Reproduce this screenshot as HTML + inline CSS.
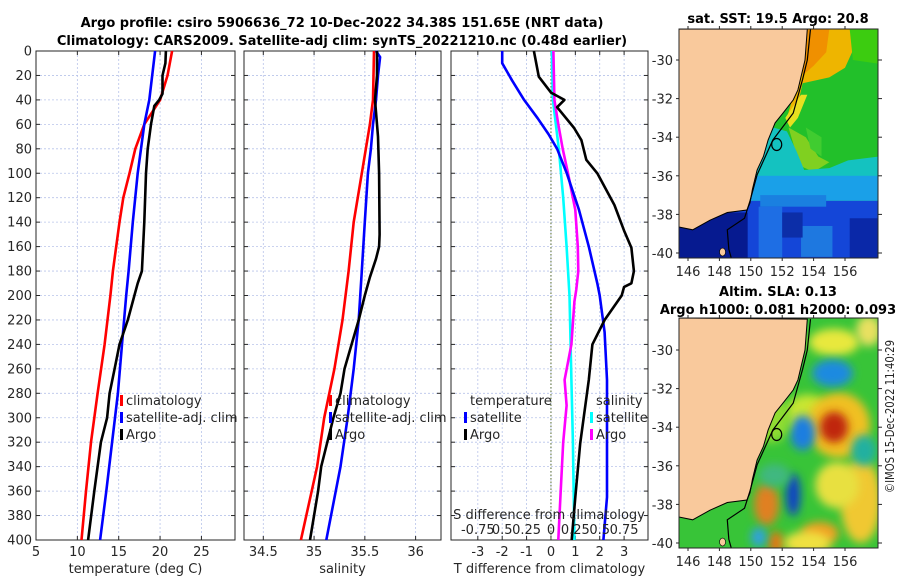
<!DOCTYPE html>
<html><head><meta charset="utf-8">
<style>
html,body{margin:0;padding:0;background:#fff;}
svg{display:block;font-family:"DejaVu Sans","Liberation Sans",sans-serif;}
.t{font-size:13px;fill:#262626;}
.tb{font-size:13px;font-weight:bold;fill:#000;}
</style></head>
<body>
<svg id="fig" width="900" height="580" viewBox="0 0 900 580">
<text class="tb" x="342" y="27" text-anchor="middle">Argo profile: csiro 5906636_72 10-Dec-2022 34.38S 151.65E (NRT data)</text>
<text class="tb" x="342" y="45" text-anchor="middle">Climatology: CARS2009. Satellite-adj clim: synTS_20221210.nc (0.48d earlier)</text>
<text class="tb" x="778" y="23" text-anchor="middle">sat. SST: 19.5 Argo: 20.8</text>
<text class="tb" x="778" y="296" text-anchor="middle">Altim. SLA: 0.13</text>
<text class="tb" x="778" y="314" text-anchor="middle">Argo h1000: 0.081 h2000: 0.093</text>
<text class="t" style="font-size:12px" textLength="153" lengthAdjust="spacingAndGlyphs" transform="translate(894,493) rotate(-90)">©IMOS 15-Dec-2022 11:40:29</text>
<g id="panels"></g>
<g id="maps"></g>
</svg>
<script>
// ---------- data ----------
const depthTicks = [0,20,40,60,80,100,120,140,160,180,200,220,240,260,280,300,320,340,360,380,400];
const tTicks = [5,10,15,20,25];
const sTicks = [34.5,35,35.5,36];
const dTTicks = [-3,-2,-1,0,1,2,3];
const dSTickLabels = ["-0.75","0.5","0.25","0","0.25","0.5","0.75"];
const dSTickValues = [-0.75,-0.5,-0.25,0,0.25,0.5,0.75];

const climTDepth = [0,20,40,60,80,100,120,140,160,180,200,240,280,320,360,400];
const climT = [21.45,20.9,20.0,18.1,17.0,16.3,15.55,15.1,14.7,14.3,14.0,13.3,12.45,11.65,11.05,10.5];
const satTDepth = [0,40,60,80,100,140,180,200,240,280,320,360,400];
const satT = [19.4,18.7,18.1,17.7,17.3,16.7,16.2,15.9,15.4,14.9,14.2,13.5,12.75];
const argoTDepth = [0,10,20,35,40,45,60,80,100,140,180,190,200,220,240,260,280,300,320,360,400];
const argoT = [20.7,20.65,20.3,20.3,19.9,19.3,18.9,18.5,18.3,18.1,17.8,17.3,16.9,16.1,15.1,14.5,13.9,13.6,12.85,12.05,11.3];

const climSDepth = [0,40,60,100,140,180,220,260,300,340,400];
const climS = [35.59,35.58,35.55,35.47,35.39,35.34,35.28,35.20,35.10,35.03,34.87];
const satSDepth = [0,5,20,40,60,80,100,140,180,220,260,300,340,400];
const satS = [35.61,35.65,35.63,35.61,35.58,35.56,35.53,35.5,35.47,35.44,35.39,35.33,35.26,35.12];
const argoSDepth = [0,20,40,60,70,100,150,160,170,185,200,220,240,260,280,300,320,340,360,400];
const argoS = [35.62,35.62,35.6,35.62,35.63,35.64,35.645,35.64,35.61,35.55,35.5,35.44,35.37,35.3,35.26,35.19,35.13,35.07,35.04,34.96];

const dTSatDepth = [0,10,24,40,55,68,80,100,130,160,190,200,230,269,365,400];
const dTSat = [-2.0,-2.0,-1.6,-1.1,-0.55,-0.1,0.25,0.65,1.15,1.55,1.9,2.0,2.2,2.3,2.3,2.15];
const dTArgoDepth = [0,21,34,40,46,63,73,89,100,126,147,161,180,190,193,200,220,240,269,321,365,400];
const dTArgo = [-0.7,-0.5,0,0.55,0.25,0.95,1.25,1.45,1.9,2.6,3.0,3.3,3.4,3.3,3.0,2.9,2.2,1.7,1.55,1.2,1.0,0.85];
const dSSatDepth = [0,40,80,120,160,200,269,320,400];
const dSSat = [0.01,0.02,0.08,0.125,0.16,0.19,0.21,0.225,0.24];
const dSArgoDepth = [0,20,40,60,80,100,130,160,180,195,205,240,269,290,320,360,400];
const dSArgo = [0.025,0.03,0.035,0.075,0.12,0.175,0.25,0.275,0.28,0.26,0.24,0.21,0.14,0.16,0.125,0.1,0.075];

// ---------- helpers ----------
const NS = "http://www.w3.org/2000/svg";
function mk(tag, attrs, parent){const e=document.createElementNS(NS,tag);for(const k in attrs)e.setAttribute(k,attrs[k]);parent.appendChild(e);return e;}
const Y0=51, Y1=540;
const yD = d => Y0 + d/400*(Y1-Y0);
const panelsG = document.getElementById('panels');

function panel(name,x0,x1,vmin,vmax,ticks,labels,xlabel,showY){
  const g = mk('g',{},panelsG);
  
  
  const sx = v => x0 + (v-vmin)/(vmax-vmin)*(x1-x0);
  depthTicks.forEach(d=>{ if(d>0&&d<400){const l=mk('line',{x1:x0,x2:x1,y1:yD(d),y2:yD(d),stroke:'#b8c4ea','stroke-width':0.8,'stroke-dasharray':'2,2'},g);
    
    }});
  ticks.forEach(v=>{const X=sx(v); if(X>x0+1&&X<x1-1){const l=mk('line',{x1:X,x2:X,y1:Y0,y2:Y1,stroke:'#b8c4ea','stroke-width':0.8,'stroke-dasharray':'2,2'},g);
    
    }});
  depthTicks.forEach(d=>{mk('line',{x1:x0,x2:x0+4,y1:yD(d),y2:yD(d),stroke:'#262626'},g);mk('line',{x1:x1-4,x2:x1,y1:yD(d),y2:yD(d),stroke:'#262626'},g);
    if(showY){const t=mk('text',{x:x0-4,y:yD(d)+4.5,'text-anchor':'end',class:'t'},g);t.textContent=d;
      
      }});
  ticks.forEach((v,i)=>{const X=sx(v);mk('line',{x1:X,x2:X,y1:Y1,y2:Y1-4,stroke:'#262626'},g);mk('line',{x1:X,x2:X,y1:Y0,y2:Y0+4,stroke:'#262626'},g);
    if(labels){const t=mk('text',{x:X,y:556,'text-anchor':'middle',class:'t'},g);t.textContent=labels[i];
      
      }});
  const r=mk('rect',{x:x0,y:Y0,width:x1-x0,height:Y1-Y0,fill:'none',stroke:'#262626','stroke-width':1},g);
  
  
  const xl=mk('text',{x:(x0+x1)/2,y:573,'text-anchor':'middle',class:'t'},g);xl.textContent=xlabel;
  
  
  return {g,sx};
}
function line(p,depths,vals,color,name,scale){
  const pts=depths.map((d,i)=>p.sx(vals[i]*(scale||1)).toFixed(1)+','+yD(d).toFixed(1)).join(' ');
  const l=mk('polyline',{points:pts,fill:'none',stroke:color,'stroke-width':2.6,'stroke-linejoin':'round'},p.g);
  
  
}
function legend(p,x,y,items){
  items.forEach((it,i)=>{
    const yy=y+i*17;
    if(it.c){const r=mk('rect',{x:x,y:yy-10,width:3,height:11,fill:it.c},p.g);
      
      }
    const t=mk('text',{x:x+6,y:yy,class:'t'},p.g);t.textContent=it.t;
    
    
  });
}

// panel 1 temperature
const p1=panel('temperature-panel',36,235,5,29.06,tTicks,tTicks,'temperature (deg C)',true);
line(p1,climTDepth,climT,'#ff0000','climatology-temperature-line');
line(p1,satTDepth,satT,'#0000ff','satellite-temperature-line');
line(p1,argoTDepth,argoT,'#000000','argo-temperature-line');
legend(p1,120,405,[{c:'#ff0000',t:'climatology'},{c:'#0000ff',t:'satellite-adj. clim'},{c:'#000',t:'Argo'}]);

// panel 2 salinity
const p2=panel('salinity-panel',244,441,34.31,36.25,sTicks,sTicks,'salinity',false);
line(p2,climSDepth,climS,'#ff0000','climatology-salinity-line');
line(p2,satSDepth,satS,'#0000ff','satellite-salinity-line');
line(p2,argoSDepth,argoS,'#000000','argo-salinity-line');
legend(p2,329,405,[{c:'#ff0000',t:'climatology'},{c:'#0000ff',t:'satellite-adj. clim'},{c:'#000',t:'Argo'}]);

// panel 3 differences (T units; S scaled x4)
const p3=panel('difference-panel',451,648,-4.1,3.98,dTTicks,dTTicks,'T difference from climatology',false);
const zl=mk('line',{x1:p3.sx(0),x2:p3.sx(0),y1:Y0,y2:Y1,stroke:'#556b2f','stroke-width':1,'stroke-dasharray':'1.5,2'},p3.g);


line(p3,dSSatDepth,dSSat,'#00ffff','satellite-salinity-diff-line',4);
line(p3,dSArgoDepth,dSArgo,'#ff00ff','argo-salinity-diff-line',4);
line(p3,dTSatDepth,dTSat,'#0000ff','satellite-temperature-diff-line');
line(p3,dTArgoDepth,dTArgo,'#000000','argo-temperature-diff-line');
legend(p3,464,405,[{t:'temperature'},{c:'#0000ff',t:'satellite'},{c:'#000',t:'Argo'}]);
legend(p3,590,405,[{t:'salinity'},{c:'#00ffff',t:'satellite'},{c:'#ff00ff',t:'Argo'}]);
const sl=mk('text',{x:549,y:519,'text-anchor':'middle',class:'t'},p3.g);sl.textContent='S difference from climatology';


dSTickValues.forEach((v,i)=>{const t=mk('text',{x:p3.sx(v*4),y:534,'text-anchor':'middle',class:'t'},p3.g);t.textContent=dSTickLabels[i];
  
  });

// ---------- maps ----------
const mapsG=document.getElementById('maps');
const defs=mk('defs',{},mapsG);
const f=mk('filter',{id:'blur',x:'-50%',y:'-50%',width:'200%',height:'200%'},defs);
mk('feGaussianBlur',{stdDeviation:4.5},f);
const mx = lon => 688 + (lon-146)*15.7;
const coastLon=[153.6,153.45,153.0,152.7,152.05,151.55,151.1,150.8,150.4,150.1,149.95,149.75,148.5,147.4,146.3,145.4];
const coastLat=[-28.4,-30.0,-31.55,-32.07,-32.75,-33.26,-34.15,-35.0,-35.7,-36.7,-37.4,-37.77,-37.9,-38.3,-38.8,-38.65];
const isoLon=[153.8,153.6,153.3,152.7,151.4,150.4,149.95,149.6,148.5,148.6,148.8];
const isoLat=[-28.4,-30.0,-31.0,-32.75,-34.15,-35.95,-37.3,-38.2,-38.8,-39.8,-40.4];
function map(name,top,y30,bottom){
  const g=mk('g',{},mapsG);
  
  
  const my = lat => y30 + (-30-lat)*19.3;
  const cp=mk('clipPath',{id:'clip'+name},defs);
  mk('rect',{x:679,y:top,width:199,height:bottom-top},cp);
  const inner=mk('g',{'clip-path':'url(#clip'+name+')'},g);
  return {g,inner,my,top,bottom};
}
function finishMap(m){
  const {g,inner,my,top,bottom}=m;
  const land='679,'+top+' '+coastLon.map((lo,i)=>mx(lo).toFixed(1)+','+my(coastLat[i]).toFixed(1)).join(' ');
  const lp=mk('polygon',{points:land,fill:'#f9c99c',stroke:'#000','stroke-width':1},inner);
  
  
  mk('ellipse',{cx:mx(148.2),cy:my(-39.95),rx:3,ry:4,fill:'#f9c99c',stroke:'#000','stroke-width':0.6},inner);
  const il=mk('polyline',{points:isoLon.map((lo,i)=>mx(lo).toFixed(1)+','+my(isoLat[i]).toFixed(1)).join(' '),fill:'none',stroke:'#000','stroke-width':1.2},inner);
  
  
  const c=mk('ellipse',{cx:mx(151.65),cy:my(-34.38),rx:5,ry:6,fill:'none',stroke:'#000','stroke-width':1.2},inner);
  
  
  mk('rect',{x:679,y:top,width:199,height:bottom-top,fill:'none',stroke:'#262626'},g);
  [-30,-32,-34,-36,-38,-40].forEach(lat=>{
    const Y=my(lat);
    mk('line',{x1:878,x2:882,y1:Y,y2:Y,stroke:'#262626'},g);
    mk('line',{x1:679,x2:676,y1:Y,y2:Y,stroke:'#262626'},g);
    const t=mk('text',{x:673,y:Y+5,'text-anchor':'end',class:'t'},g);t.textContent=lat;
    
    
  });
  [146,148,150,152,154,156].forEach(lon=>{
    const X=mx(lon);
    mk('line',{x1:X,x2:X,y1:bottom,y2:bottom+3,stroke:'#262626'},g);
    mk('line',{x1:X,x2:X,y1:top,y2:top-3,stroke:'#262626'},g);
    const t=mk('text',{x:X,y:bottom+18,'text-anchor':'middle',class:'t'},g);t.textContent=lon;
    
    
  });
}
function poly(I,pts,fill,my){mk('polygon',{points:pts.map(p=>mx(p[0]).toFixed(1)+','+my(p[1]).toFixed(1)).join(' '),fill:fill},I);}
// SST map
const m1=map('sst-map',29,60,258);
(function(){const I=m1.inner,my=m1.my;
  mk('rect',{x:679,y:29,width:199,height:229,fill:'#22c02a'},I);
  poly(I,[[153.4,-28.4],[156.5,-28.4],[156.5,-29.5],[156,-30.4],[155,-30.9],[153.3,-31.2],[153.0,-32.3],[152.3,-33.0],[152.8,-31.6],[153.2,-30.0]],'#eeb500',my);
  poly(I,[[153.6,-28.4],[155,-28.4],[154.8,-29.6],[154,-30.3],[153.3,-30.8]],'#f09000',my);
  poly(I,[[153.2,-31.8],[153.6,-31.8],[153.0,-33.0],[152.5,-33.5],[152.2,-33.0]],'#e8e020',my);
  poly(I,[[156.3,-28.4],[158.2,-28.4],[158.2,-30.2],[156.5,-30.0]],'#3ccc10',my);
  poly(I,[[152.4,-33.5],[153.5,-34.0],[154.3,-35.0],[155,-35.3],[154,-35.8],[153.2,-35.5],[152.8,-34.6]],'#80d020',my);
  poly(I,[[151.0,-33.4],[152.3,-33.7],[152.9,-34.7],[153.4,-35.7],[155,-35.6],[156.2,-35.2],[158.2,-35.0],[158.2,-36.4],[150.2,-36.4],[150.6,-35.0]],'#14c2c0',my);
  poly(I,[[153.5,-33.5],[154.5,-34.0],[154.5,-35.0],[153.8,-34.6]],'#40cc30',my);
  mk('rect',{x:679,y:my(-36.0),width:199,height:my(-37.3)-my(-36.0),fill:'#1aa0e8'},I);
  mk('rect',{x:679,y:my(-37.3),width:199,height:258-my(-37.3),fill:'#1446d8'},I);
  mk('rect',{x:mx(150.6),y:my(-37.0),width:mx(154.8)-mx(150.6),height:my(-37.6)-my(-37.0),fill:'#1a80e0'},I);
  mk('rect',{x:mx(153.2),y:my(-38.6),width:mx(155.2)-mx(153.2),height:my(-40.2)-my(-38.6),fill:'#1e78e0'},I);
  mk('rect',{x:mx(150.5),y:my(-37.6),width:mx(152)-mx(150.5),height:my(-40.4)-my(-37.6),fill:'#1e6ee4'},I);
  mk('rect',{x:679,y:my(-37.9),width:mx(149.8)-679,height:258-my(-37.9),fill:'#061a90'},I);
  mk('rect',{x:mx(152),y:my(-37.9),width:mx(153.3)-mx(152),height:my(-39.2)-my(-37.9),fill:'#0c2ea8'},I);
  mk('rect',{x:mx(156.3),y:my(-38.2),width:mx(158.2)-mx(156.3),height:my(-40.4)-my(-38.2),fill:'#0a28a8'},I);
})();
finishMap(m1);
// SLA map
const m2=map('sla-map',318,350,548);
(function(){const I=m2.inner,my=m2.my;
  mk('rect',{x:679,y:318,width:199,height:230,fill:'#38c438'},I);
  const blobs=[
    [155.3,-29.6,1.6,0.7,'#e8e83c'],[157.5,-29.0,0.8,0.8,'#e8e060'],[153.6,-33.3,1.4,1.0,'#c8e632'],[155.6,-33.9,2.0,1.7,'#f0c020'],[155.3,-34.0,0.9,0.8,'#c02808'],
    [157,-37.8,1.3,2.2,'#f0c830'],[155.5,-37.0,1.4,1.2,'#e8e040'],[151,-38,0.8,1.1,'#e08020'],[154.4,-39.5,1.2,0.6,'#f0a020'],[151.6,-40,0.5,0.6,'#e07818'],[153.6,-40,1.5,0.6,'#f0e040'],
    [155.2,-31.2,1.3,0.7,'#1e8ae0'],[153.3,-34.3,0.8,0.9,'#1e7ee0'],[152.7,-37.5,0.45,1.1,'#0a40c8'],[157.2,-35.2,0.8,0.8,'#20b0a0'],
    [150.5,-39.7,0.5,0.5,'#30a0e0'],[151.5,-36.5,1.0,0.6,'#40b880'],[151.3,-33.6,1.2,1.2,'#90dc30']];
  blobs.forEach(b=>{const e=mk('ellipse',{cx:mx(b[0]),cy:my(b[1]),rx:b[2]*15.7,ry:b[3]*19.3,fill:b[4],filter:'url(#blur)'},I);
    
    });
})();
finishMap(m2);
</script>
</body></html>
